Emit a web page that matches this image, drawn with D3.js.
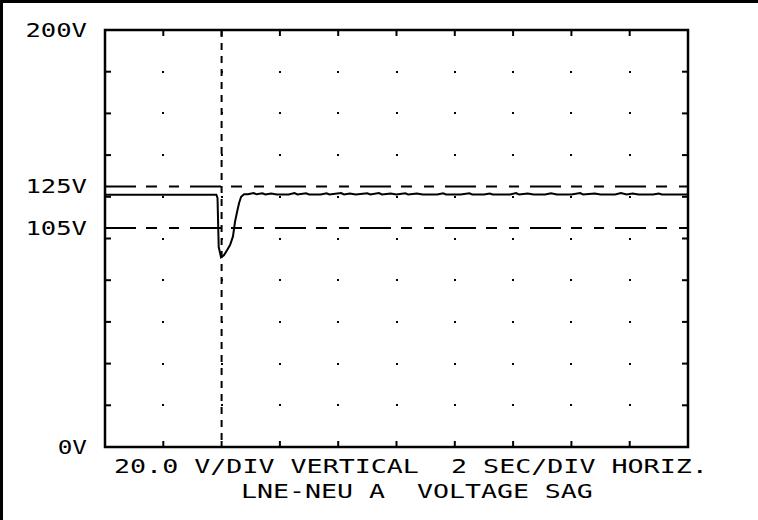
<!DOCTYPE html>
<html>
<head>
<meta charset="utf-8">
<script src="https://cdn.jsdelivr.net/npm/d3@7"></script>
<style>
  html, body { margin: 0; padding: 0; background: #fff; }
  text { font-family: "DejaVu Sans Mono", monospace; fill: #000; white-space: pre; }
</style>
</head>
<body>
<div id="chart"></div>
<script>
/* global d3 */

// volts, 20 V/div, 10 divisions
var voltLabels = [200, 125, 105, 0];
var voltLabelText = ['200V', '125V', '105V', '0V'];
var limitVolts = [125, 105];
var triggerTime = 4;
var footerLines = ['20.0 V/DIV VERTICAL  2 SEC/DIV HORIZ.', 'LNE-NEU A  VOLTAGE SAG'];

// trace (seconds, volts)
var traceTime = [0, 3.82, 3.86, 3.9, 3.98, 4.08, 4.19, 4.29, 4.39, 4.46, 4.53, 4.6, 4.67, 4.77,
  4.9, 5.1, 5.2, 5.4, 5.5, 5.7, 5.9, 6.3, 6.5, 6.6, 6.9, 7.0, 7.4, 7.6, 7.7, 8.1, 8.2, 8.4, 8.6,
  9.0, 9.1, 9.4, 9.5, 9.8, 10.0, 10.3, 10.4, 10.7, 10.9, 11.4, 11.6, 11.7, 12.2, 12.5, 12.6,
  13.0, 13.2, 13.3, 13.9, 14.1, 14.2, 14.5, 14.7, 15.1, 15.3, 15.5, 16.0, 16.3, 16.4, 16.8,
  17.0, 17.5, 17.7, 17.9, 18.1, 18.3, 18.8, 19.0, 19.1, 19.6, 20];
var traceVolts = [121, 121, 119.5, 96, 91, 92, 94.5, 96.9, 101, 108, 112.7, 117, 120, 121.2,
  121.2, 121.8, 121.2, 121.7, 121.1, 121.6, 121.1, 121.1, 121.8, 121.1, 121.7, 121.1, 121.1, 121.7, 121.1, 121.8, 121.1, 121.6, 121.1,
  121.7, 121.1, 121.8, 121.1, 121.6, 121.1, 121.7, 121.1, 121.6, 121.1, 121.1, 121.7, 121.1, 121.1, 121.7, 121.1,
  121.1, 121.6, 121.1, 121.1, 121.8, 121.1, 121.6, 121.1, 121.1, 121.7, 121.1, 121.1, 121.8, 121.1, 121.6,
  121.1, 121.1, 121.8, 121.1, 121.6, 121.1, 121.1, 121.6, 121.1, 121.1, 121.1];

var width = 758, height = 520;
var plot = {left: 105, top: 30, right: 688, bottom: 447};
var charW = 16.13;

var svg = d3.select('#chart').append('svg')
  .attr('width', width)
  .attr('height', height);

var x = d3.scaleLinear().domain([0, 20]).range([plot.left, plot.right]);
var y = d3.scaleLinear().domain([0, 200]).range([plot.bottom, plot.top]);

var xDivs = d3.range(2, 20, 2),
    yDivs = d3.range(20, 200, 20);

// outer frame (left + top only)
svg.append('path')
  .attr('d', 'M1.5,' + height + 'V1.5H' + width)
  .style('fill', 'none')
  .style('stroke', '#000')
  .style('stroke-width', 3);

// grid dots
var dots = [];
xDivs.forEach(function(t){ yDivs.forEach(function(v){ dots.push([t, v]); }); });
svg.append('g').selectAll('rect').data(dots).enter().append('rect')
  .attr('x', function(d){ return Math.round(x(d[0])) - 1; })
  .attr('y', function(d){ return Math.round(y(d[1])) - 1; })
  .attr('width', 2)
  .attr('height', 2)
  .style('fill', '#000');

// edge ticks
var ticks = svg.append('g').style('stroke', '#000').style('stroke-width', 2);
xDivs.forEach(function(t){
  ticks.append('line').attr('x1', x(t)).attr('x2', x(t)).attr('y1', plot.top).attr('y2', plot.top + 6);
  ticks.append('line').attr('x1', x(t)).attr('x2', x(t)).attr('y1', plot.bottom).attr('y2', plot.bottom - 6);
});
yDivs.forEach(function(v){
  ticks.append('line').attr('x1', plot.left).attr('x2', plot.left + 6).attr('y1', y(v)).attr('y2', y(v));
  ticks.append('line').attr('x1', plot.right).attr('x2', plot.right - 6).attr('y1', y(v)).attr('y2', y(v));
});

// limit lines
svg.append('g').selectAll('line').data(limitVolts).enter().append('line')
  .attr('x1', plot.left)
  .attr('x2', plot.right)
  .attr('y1', function(d){ return y(d); })
  .attr('y2', function(d){ return y(d); })
  .style('stroke', '#000')
  .style('stroke-width', 2)
  .style('stroke-dasharray', '31,10,11,12,10,11');

// trigger line
svg.append('line')
  .attr('x1', x(triggerTime))
  .attr('x2', x(triggerTime))
  .attr('y1', plot.top)
  .attr('y2', plot.bottom)
  .style('stroke', '#000')
  .style('stroke-width', 2)
  .style('stroke-dasharray', '7,6');

// trace
var line = d3.line()
  .x(function(d){ return x(d); })
  .y(function(d, i){ return y(traceVolts[i]); });

svg.append('path')
  .datum(traceTime)
  .attr('d', line)
  .style('fill', 'none')
  .style('stroke', '#000')
  .style('stroke-width', 2);

// plot frame
svg.append('rect')
  .attr('x', plot.left)
  .attr('y', plot.top)
  .attr('width', plot.right - plot.left)
  .attr('height', plot.bottom - plot.top)
  .style('fill', 'none')
  .style('stroke', '#000')
  .style('stroke-width', 2.5);

// volt labels
svg.append('g').selectAll('text').data(voltLabels).enter().append('text')
  .attr('x', 87)
  .attr('y', function(d){ return y(d) + 7; })
  .attr('text-anchor', 'end')
  .attr('textLength', function(d, i){ return voltLabelText[i].length * charW - 3; })
  .attr('lengthAdjust', 'spacingAndGlyphs')
  .style('font-size', '20px')
  .text(function(d, i){ return voltLabelText[i]; });

// footer
svg.append('g').selectAll('text').data(footerLines).enter().append('text')
  .attr('x', function(d, i){ return i ? 241 : 114; })
  .attr('y', function(d, i){ return i ? 498 : 473; })
  .attr('xml:space', 'preserve')
  .attr('textLength', function(d){ return d.length * charW - 3; })
  .attr('lengthAdjust', 'spacingAndGlyphs')
  .style('font-size', '20px')
  .text(function(d){ return d; });
</script>
</body>
</html>
